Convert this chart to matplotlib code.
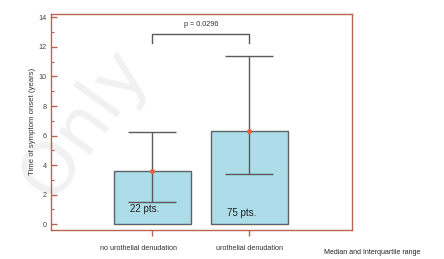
import matplotlib
matplotlib.use("Agg")
import matplotlib.pyplot as plt
import matplotlib.transforms as mtransforms
from matplotlib.ticker import MultipleLocator

plt.rcParams['font.family'] = ['Liberation Sans', 'DejaVu Sans']

categories = ["no urothelial denudation", "urothelial denudation"]
medians = [3.62, 6.33]
q1 = [1.5, 3.4]
q3 = [6.22, 11.4]
counts = ["22 pts.", "75 pts."]
count_y = [0.7, 0.45]
p_text = "p = 0.0296"
bracket_y = 12.85
bracket_drop = 0.6

fig = plt.figure(figsize=(4.44, 2.59), dpi=100)
ax = fig.add_axes([51/444, 29/259, 301/444, 216.5/259])
ax.patch.set_alpha(0)

spine_col = "#b86450"
bar_fill = "#acdde9"
edge_col = "#5e6266"
err_col = "#5a5a5a"
dot_col = "#e4643c"

# faint watermark behind everything
fig.text(0.19, 0.52, "Only", fontsize=52, color="#f1f1f1", rotation=54,
         ha="center", va="center", zorder=-5, family="DejaVu Sans")

x = list(range(len(categories)))
ax.bar(x, medians, width=0.79, color=bar_fill, edgecolor=edge_col, linewidth=1.0, zorder=2)
lower = [m - a for m, a in zip(medians, q1)]
upper = [b - m for m, b in zip(medians, q3)]
ax.errorbar(x, medians, yerr=[lower, upper], fmt="none", ecolor=err_col,
            elinewidth=1.0, capsize=17, capthick=1.0, zorder=3)
ax.scatter(x, medians, s=13, color=dot_col, zorder=4, linewidths=0)

for xi, c, cy in zip(x, counts, count_y):
    ax.text(xi - 0.08, cy, c, ha="center", va="bottom", fontsize=7,
            color="#222222", zorder=5)

# significance bracket
ax.plot([x[0], x[0], x[1], x[1]],
        [bracket_y - bracket_drop, bracket_y, bracket_y, bracket_y - bracket_drop],
        color=err_col, lw=1.0, zorder=3)
ax.text((x[0] + x[1]) / 2, bracket_y + 0.45, p_text, ha="center", va="bottom",
        fontsize=5.2, color="#333333")

ax.set_xlim(-1.046, 2.057)
ax.set_ylim(-0.39, 14.26)
ax.yaxis.set_major_locator(MultipleLocator(2))
ax.yaxis.set_minor_locator(MultipleLocator(1))
ax.tick_params(axis="y", which="both", direction="in", color=spine_col,
               labelsize=5.2, labelcolor="#444444", pad=3)
ax.tick_params(axis="y", which="major", length=4, width=1)
ax.tick_params(axis="y", which="minor", length=2.5, width=0.8)
ax.set_xticks(x)
ax.set_xticklabels(categories, fontsize=5.2, color="#333333")
ax.tick_params(axis="x", direction="out", length=4, width=1, color=spine_col, pad=7)
ax.get_xticklabels()[0].set_transform(
    ax.get_xticklabels()[0].get_transform()
    + mtransforms.ScaledTranslation(-14/100, 0, fig.dpi_scale_trans))
for s in ax.spines.values():
    s.set_color(spine_col)
    s.set_linewidth(1.0)
ax.set_ylabel("Time of symptom onset (years)", fontsize=5.6, color="#333333", labelpad=2)

fig.text(372/444, 1 - 253/259, "Median and Interquartile range", ha="center",
         va="center", fontsize=5.0, color="#222222")

fig.savefig("out.png", dpi=100)
